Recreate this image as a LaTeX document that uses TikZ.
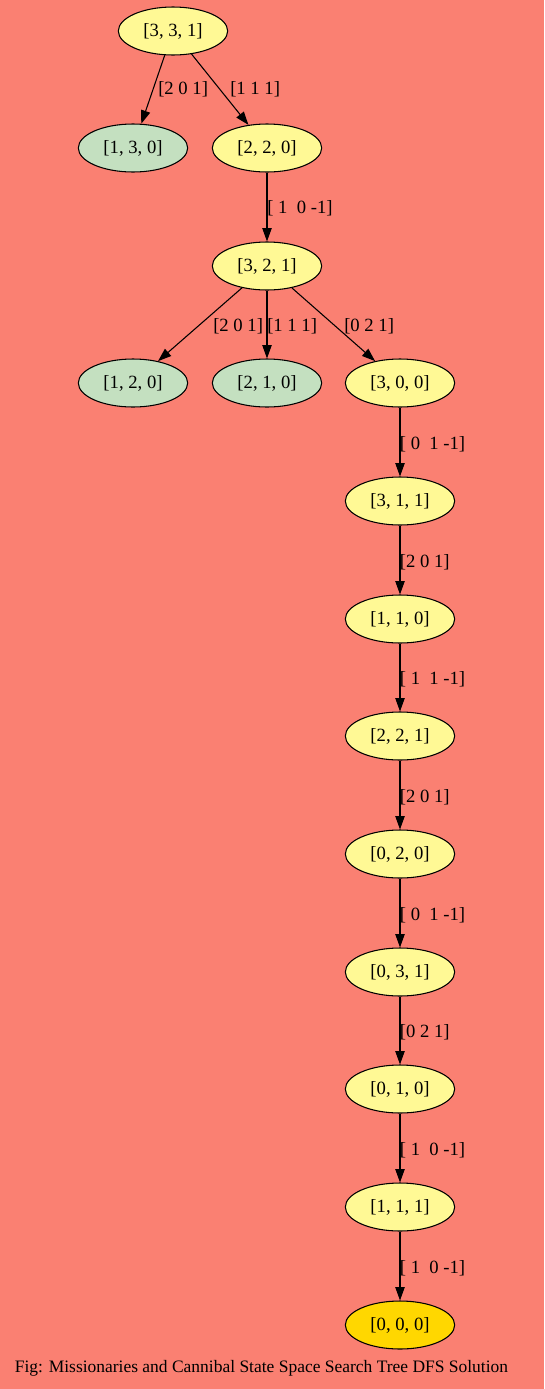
\documentclass[tikz,border=0pt]{standalone}
\usepackage{fontspec}
\setmainfont{Liberation Serif}
\usetikzlibrary{arrows.meta,shapes.geometric}
\definecolor{salmon}{HTML}{FA8072}
\definecolor{openfill}{HTML}{FFF995}
\definecolor{deadfill}{HTML}{C4E0C0}
\definecolor{goalfill}{HTML}{FFD700}
\tikzset{
	state/.style={ellipse,draw,line width=0.8pt,fill=openfill,minimum width=82pt,minimum height=36pt,inner sep=0pt,font=\fontsize{14}{16}\selectfont},
	dead/.style={state,fill=deadfill},
	goal/.style={state,fill=goalfill},
	lbl/.style={anchor=west,inner sep=0pt,font=\fontsize{14}{16}\selectfont},
	move/.style={->,line width=0.8pt,>={Triangle[length=10pt,width=7pt]}}
}

\begin{document}
\begin{tikzpicture}[x=0.75pt,y=-0.75pt]
	\fill[salmon] (0,0) rectangle (544,1389);
	\useasboundingbox (0,0) rectangle (544,1389);
	% tree
	\node[state] (s331) at (173,31) {[3, 3, 1]};
	\node[dead] (s130) at (133,148) {[1, 3, 0]};
	\node[state] (s220) at (267,148) {[2, 2, 0]};
	\node[state] (s321) at (267,266) {[3, 2, 1]};
	\node[dead] (s120) at (133,383) {[1, 2, 0]};
	\node[dead] (s210) at (267,383) {[2, 1, 0]};
	\node[state] (s300) at (400,383) {[3, 0, 0]};
	\node[state] (s311) at (400,501) {[3, 1, 1]};
	\node[state] (s110) at (400,619) {[1, 1, 0]};
	\node[state] (s221) at (400,736) {[2, 2, 1]};
	\node[state] (s020) at (400,854) {[0, 2, 0]};
	\node[state] (s031) at (400,972) {[0, 3, 1]};
	\node[state] (s010) at (400,1089) {[0, 1, 0]};
	\node[state] (s111) at (400,1207) {[1, 1, 1]};
	\node[goal] (s000) at (400,1325) {[0, 0, 0]};
	% moves
	\draw[move] (s331) -- (s130);
	\draw[move] (s331) -- (s220);
	\draw[move] (s220) -- (s321);
	\draw[move] (s321) -- (s120);
	\draw[move] (s321) -- (s210);
	\draw[move] (s321) -- (s300);
	\node[lbl] (m1) at (158,89) {[2 0 1]};
	\node[lbl] (m2) at (230,89) {[1 1 1]};
	\node[lbl] (m3) at (267,208) {[\ 1\ \ 0 -1]};
	\node[lbl] (m4) at (213,326) {[2 0 1]};
	\node[lbl] (m5) at (267,326) {[1 1 1]};
	\node[lbl] (m6) at (344,326) {[0 2 1]};
	\foreach \a/\b/\t in {s300/s311/{[\ 0\ \ 1 -1]},s311/s110/{[2 0 1]},s110/s221/{[\ 1\ \ 1 -1]},
		s221/s020/{[2 0 1]},s020/s031/{[\ 0\ \ 1 -1]},s031/s010/{[0 2 1]},
		s010/s111/{[\ 1\ \ 0 -1]},s111/s000/{[\ 1\ \ 0 -1]}}
		\draw[move] (\a) -- node[lbl,xshift=-0.5pt,yshift=-1.5pt] (m\b) {\t} (\b);
	\node[font=\fontsize{13.1}{15}\selectfont] (caption) at (261.5,1368) {Fig: Missionaries and Cannibal State Space Search Tree DFS Solution};
\end{tikzpicture}
\end{document}
